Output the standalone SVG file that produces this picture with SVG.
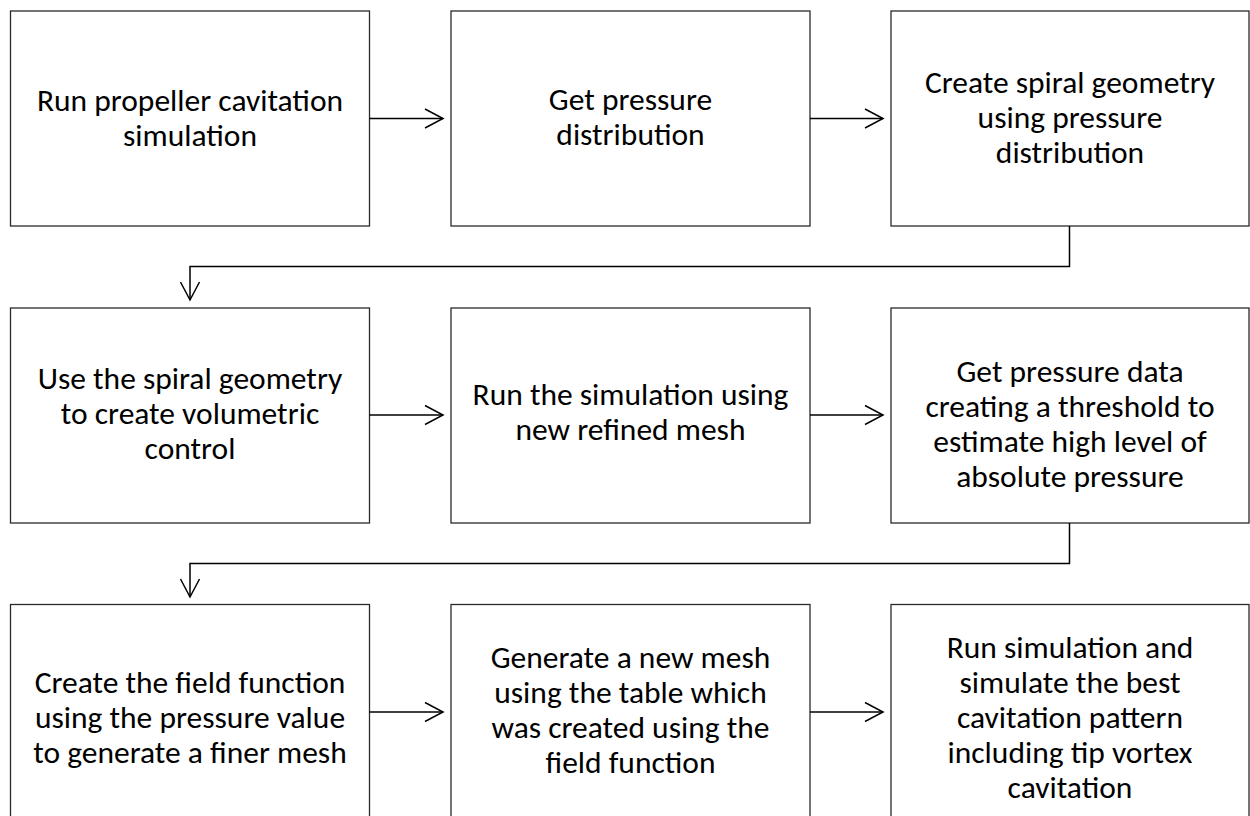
<svg xmlns="http://www.w3.org/2000/svg" width="1250" height="816" viewBox="0 0 1250 816">
<style>
.box{fill:#fff;stroke:#2a2a2a;stroke-width:1.3}
.lbl{font-family:Carlito,Calibri,Lato,"Open Sans",sans-serif;font-size:31.5px;fill:#000;text-anchor:middle}
.conn{fill:none;stroke:#000;stroke-width:1.5}
</style>
<defs>
<marker id="arr" markerUnits="userSpaceOnUse" viewBox="0 0 22 22" refX="20" refY="11" markerWidth="22" markerHeight="22" orient="auto">
<path d="M2,1.5 L20,11 L2,20.5" fill="none" stroke="#000" stroke-width="1.5"/>
</marker>
</defs>
<rect width="1250" height="816" fill="#fff"/>
<g id="n1"><rect class="box" x="10.5" y="11" width="359" height="215"/>
<text class="lbl"><tspan x="190" y="111">Run propeller cavitation</tspan><tspan x="190" y="146">simulation</tspan></text></g>
<g id="n2"><rect class="box" x="451" y="11" width="359" height="215"/>
<text class="lbl"><tspan x="630.5" y="110">Get pressure</tspan><tspan x="630.5" y="145">distribution</tspan></text></g>
<g id="n3"><rect class="box" x="891" y="11" width="358" height="215"/>
<text class="lbl"><tspan x="1070" y="93">Create spiral geometry</tspan><tspan x="1070" y="128">using pressure</tspan><tspan x="1070" y="163">distribution</tspan></text></g>
<g id="n4"><rect class="box" x="10.5" y="308" width="359" height="215"/>
<text class="lbl"><tspan x="190" y="389">Use the spiral geometry</tspan><tspan x="190" y="424">to create volumetric</tspan><tspan x="190" y="459">control</tspan></text></g>
<g id="n5"><rect class="box" x="451" y="308" width="359" height="215"/>
<text class="lbl"><tspan x="630.5" y="405">Run the simulation using</tspan><tspan x="630.5" y="440">new refined mesh</tspan></text></g>
<g id="n6"><rect class="box" x="891" y="308" width="358" height="215"/>
<text class="lbl"><tspan x="1070" y="381.5">Get pressure data</tspan><tspan x="1070" y="416.5">creating a threshold to</tspan><tspan x="1070" y="451.5">estimate high level of</tspan><tspan x="1070" y="486.5">absolute pressure</tspan></text></g>
<g id="n7"><rect class="box" x="10.5" y="604.5" width="359" height="215"/>
<text class="lbl"><tspan x="190" y="693">Create the field function</tspan><tspan x="190" y="728">using the pressure value</tspan><tspan x="190" y="763">to generate a finer mesh</tspan></text></g>
<g id="n8"><rect class="box" x="451" y="604.5" width="359" height="215"/>
<text class="lbl"><tspan x="630.5" y="668">Generate a new mesh</tspan><tspan x="630.5" y="703">using the table which</tspan><tspan x="630.5" y="738">was created using the</tspan><tspan x="630.5" y="773">field function</tspan></text></g>
<g id="n9"><rect class="box" x="891" y="604.5" width="358" height="215"/>
<text class="lbl"><tspan x="1070" y="657.5">Run simulation and</tspan><tspan x="1070" y="692.5">simulate the best</tspan><tspan x="1070" y="727.5">cavitation pattern</tspan><tspan x="1070" y="762.5">including tip vortex</tspan><tspan x="1070" y="797.5">cavitation</tspan></text></g>
<g id="connectors">
<path class="conn" d="M369.5,118.5 H443" marker-end="url(#arr)"/>
<path class="conn" d="M810,118.5 H883" marker-end="url(#arr)"/>
<path class="conn" d="M1069.5,226 V266.5 H190 V300" marker-end="url(#arr)"/>
<path class="conn" d="M369.5,415 H443" marker-end="url(#arr)"/>
<path class="conn" d="M810,415 H883" marker-end="url(#arr)"/>
<path class="conn" d="M1069.5,523 V563.5 H190 V597" marker-end="url(#arr)"/>
<path class="conn" d="M369.5,712 H443" marker-end="url(#arr)"/>
<path class="conn" d="M810,712 H883" marker-end="url(#arr)"/>
</g>
</svg>
